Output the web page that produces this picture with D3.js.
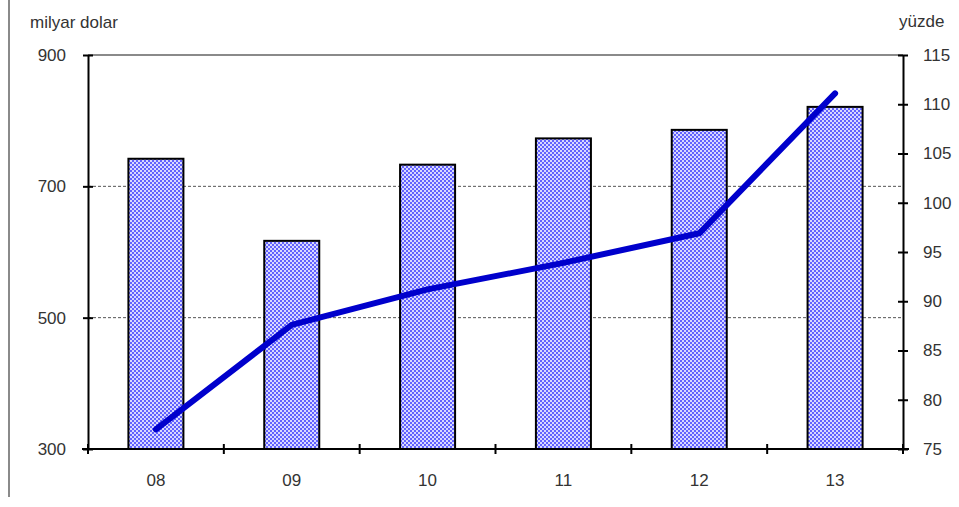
<!DOCTYPE html>
<html lang="tr">
<head>
  <meta charset="utf-8">
  <script src="https://d3js.org/d3.v7.min.js"></script>
  <style>
    body { margin: 0; background: #ffffff; font-family: 'Liberation Sans', Arial, sans-serif; }
    .axis text { font-size: 17px; fill: #333; }
    .axis path, .axis line { stroke: #000; stroke-width: 2; }
    .grid line { stroke: #555; stroke-width: 1; stroke-dasharray: 3,2; }
  </style>
</head>
<body>
  <svg id="chart" width="959" height="507"></svg>
  <script>
    const years = ["08", "09", "10", "11", "12", "13"];
    const dollars = [742, 617, 733, 773, 786, 821];     // milyar dolar, bars
    const percent = [77.0, 87.6, 91.2, 93.9, 96.9, 111.1]; // yüzde, line
    const leftTicks = [300, 500, 700, 900];
    const rightTicks = [75, 80, 85, 90, 95, 100, 105, 110, 115];

    const plot = {left: 88, right: 903, top: 55, bottom: 449};

    const svg = d3.select("#chart");

    const defs = svg.append("defs");
    const pat = defs.append("pattern")
      .attr("id", "checker")
      .attr("width", 4).attr("height", 4)
      .attr("patternUnits", "userSpaceOnUse");
    pat.append("rect").attr("width", 4).attr("height", 4).attr("fill", "#d8d8ff");
    pat.append("rect").attr("x", 0).attr("y", 0).attr("width", 2).attr("height", 2).attr("fill", "#6262ff");
    pat.append("rect").attr("x", 2).attr("y", 2).attr("width", 2).attr("height", 2).attr("fill", "#6262ff");

    const x = d3.scaleBand().domain(years).range([plot.left, plot.right]).paddingInner(0.595).paddingOuter(0.2975);
    const xb = d3.scaleBand().domain(years).range([plot.left, plot.right]);
    const yL = d3.scaleLinear().domain([300, 900]).range([plot.bottom, plot.top]);
    const yR = d3.scaleLinear().domain([75, 115]).range([plot.bottom, plot.top]);

    // gray frame line at the far left
    svg.append("line")
      .attr("x1", 9).attr("x2", 9).attr("y1", 0).attr("y2", 497)
      .attr("stroke", "#8a8a8a").attr("stroke-width", 2);

    // gridlines
    svg.append("g").attr("class", "grid")
      .selectAll("line").data([500, 700]).join("line")
      .attr("x1", plot.left).attr("x2", plot.right)
      .attr("y1", d => yL(d)).attr("y2", d => yL(d));

    // top border
    svg.append("line")
      .attr("x1", plot.left).attr("x2", plot.right)
      .attr("y1", plot.top).attr("y2", plot.top)
      .attr("stroke", "#8a8a8a").attr("stroke-width", 2);

    // bars
    svg.append("g").selectAll("rect").data(years).join("rect")
      .attr("x", d => x(d))
      .attr("y", (d, i) => yL(dollars[i]))
      .attr("width", x.bandwidth())
      .attr("height", (d, i) => yL(300) - yL(dollars[i]))
      .attr("fill", "url(#checker)")
      .attr("stroke", "#000")
      .attr("stroke-width", 2);

    // left axis
    svg.append("g").attr("class", "axis")
      .attr("transform", `translate(${plot.left},0)`)
      .call(d3.axisLeft(yL).tickValues(leftTicks).tickSize(6).tickPadding(16).tickSizeOuter(0))
      .call(g => g.selectAll(".tick line").attr("x2", 5).attr("x1", -5));

    // right axis
    svg.append("g").attr("class", "axis")
      .attr("transform", `translate(${plot.right},0)`)
      .call(d3.axisRight(yR).tickValues(rightTicks).tickSize(6).tickPadding(14).tickSizeOuter(0))
      .call(g => g.selectAll(".tick line").attr("x1", -5).attr("x2", 5));

    // bottom axis with ticks between categories
    const bottom = svg.append("g").attr("class", "axis");
    bottom.append("line")
      .attr("x1", plot.left - 6).attr("x2", plot.right + 6)
      .attr("y1", plot.bottom).attr("y2", plot.bottom);
    const bTicks = years.map(d => xb(d)).concat([plot.right]);
    bottom.selectAll(".bt").data(bTicks).join("line")
      .attr("class", "bt")
      .attr("x1", d => d).attr("x2", d => d)
      .attr("y1", plot.bottom - 5).attr("y2", plot.bottom + 5);
    bottom.selectAll("text").data(years).join("text")
      .attr("x", d => xb(d) + xb.bandwidth() / 2)
      .attr("y", 486)
      .attr("text-anchor", "middle")
      .text(d => d);

    // line
    svg.append("path")
      .datum(years)
      .attr("fill", "none")
      .attr("stroke", "#0000cc")
      .attr("stroke-width", 6)
      .attr("stroke-linecap", "round")
      .attr("stroke-linejoin", "round")
      .attr("d", d3.line()
        .x(d => xb(d) + xb.bandwidth() / 2)
        .y((d, i) => yR(percent[i])));

    // unit labels
    svg.append("text").attr("x", 30).attr("y", 28)
      .attr("font-size", 17).attr("fill", "#333").text("milyar dolar");
    svg.append("text").attr("x", 899).attr("y", 27)
      .attr("font-size", 17).attr("fill", "#333").text("yüzde");
  </script>
</body>
</html>
